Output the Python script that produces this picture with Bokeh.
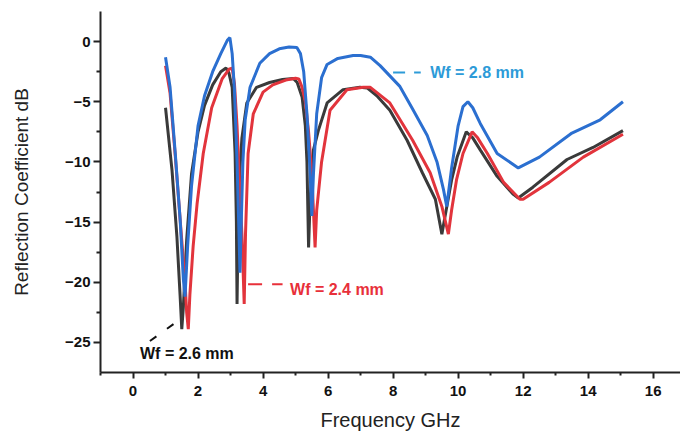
from bokeh.plotting import figure
from bokeh.models import FixedTicker, Range1d
from bokeh.core.properties import value
from bokeh.embed import file_html
from bokeh.resources import INLINE

# ---- data ----
freq_26 = [1.0, 1.2, 1.35, 1.45, 1.5, 1.55, 1.65, 1.8, 2.0, 2.2, 2.45, 2.7, 2.86, 2.95, 3.05,
           3.14, 3.18, 3.2, 3.23, 3.28, 3.35, 3.5, 3.8, 4.2, 4.6, 4.93, 5.05, 5.2, 5.3, 5.35,
           5.4, 5.45, 5.55, 5.7, 5.97, 6.46, 6.98, 7.2, 7.5, 7.9, 8.43, 8.9, 9.3, 9.5, 9.6,
           9.8, 9.97, 10.25, 10.45, 10.68, 11.2, 11.7, 11.85, 12.3, 13.35, 14.15, 15.07]
s11_26 = [-5.5, -10.7, -16.2, -21.2, -23.9, -22.0, -16.5, -11.0, -7.5, -5.3, -3.6, -2.5, -2.2, -2.6, -3.8,
          -9.3, -15.0, -21.8, -16.0, -11.0, -8.0, -5.1, -3.8, -3.4, -3.15, -3.06, -3.4, -4.6, -7.0, -10.0,
          -17.1, -13.0, -9.0, -7.4, -5.1, -4.0, -3.8, -3.85, -4.5, -5.7, -8.2, -10.9, -13.1, -16.0, -14.5,
          -11.5, -9.6, -7.5, -8.0, -9.0, -11.2, -12.7, -13.0, -12.1, -9.8, -8.8, -7.4]

freq_24 = [1.0, 1.14, 1.3, 1.45, 1.6, 1.65, 1.7, 1.75, 1.85, 1.97, 2.16, 2.42, 2.74, 2.95, 3.05,
           3.12, 3.2, 3.28, 3.35, 3.42, 3.46, 3.54, 3.7, 4.0, 4.3, 4.7, 5.0, 5.1, 5.2, 5.3,
           5.4, 5.5, 5.6, 5.65, 5.8, 6.06, 6.58, 7.08, 7.3, 7.9, 8.6, 9.14, 9.5, 9.7, 9.8,
           9.95, 10.15, 10.43, 10.6, 10.9, 11.4, 11.9, 12.0, 12.8, 13.85, 15.07]
s11_24 = [-2.0, -4.3, -9.5, -14.8, -20.0, -22.5, -23.9, -21.0, -17.0, -13.5, -9.3, -5.5, -3.1, -2.3, -2.2,
          -3.5, -7.0, -12.0, -16.0, -21.8, -16.0, -9.3, -6.0, -4.2, -3.6, -3.2, -3.05, -3.1, -3.8, -5.0,
          -7.5, -11.0, -17.1, -14.0, -10.0, -5.7, -4.0, -3.8, -3.8, -5.1, -8.2, -10.9, -13.7, -16.0, -14.0,
          -11.5, -9.3, -7.5, -8.0, -9.3, -11.7, -13.1, -13.1, -11.7, -9.6, -7.7]

freq_28 = [1.0, 1.14, 1.3, 1.45, 1.55, 1.6, 1.68, 1.8, 2.0, 2.2, 2.45, 2.7, 2.9, 2.98, 3.05,
           3.12, 3.2, 3.26, 3.29, 3.33, 3.38, 3.45, 3.6, 3.9, 4.2, 4.5, 4.8, 5.04, 5.15, 5.25,
           5.35, 5.45, 5.5, 5.55, 5.65, 5.8, 5.97, 6.3, 6.77, 7.0, 7.3, 7.6, 8.2, 8.6, 9.05,
           9.35, 9.55, 9.65, 9.8, 10.0, 10.15, 10.3, 10.45, 10.68, 11.2, 11.85, 12.5, 13.5, 14.37, 15.07]
s11_28 = [-1.3, -3.8, -9.3, -14.8, -19.8, -21.2, -17.0, -12.0, -7.0, -4.5, -2.5, -1.0, 0.1, 0.33, -1.0,
          -4.0, -10.0, -16.0, -19.2, -15.0, -10.0, -6.5, -3.8, -1.8, -1.0, -0.6, -0.45, -0.5, -1.0, -2.5,
          -6.0, -11.0, -14.5, -11.0, -6.0, -3.0, -1.9, -1.4, -1.16, -1.15, -1.3, -2.0, -3.7, -5.6, -7.8,
          -10.0, -12.3, -13.7, -10.5, -7.0, -5.4, -5.0, -5.5, -6.8, -9.3, -10.5, -9.6, -7.6, -6.5, -5.0]

label_text = ["Wf = 2.6 mm", "Wf = 2.4 mm", "Wf = 2.8 mm"]
label_x = [0.215, 4.83, 9.14]
label_y = [-25.95, -20.58, -2.56]

x_ticks = [0, 2, 4, 6, 8, 10, 12, 14, 16]
x_minor = [-1, 1, 3, 5, 7, 9, 11, 13, 15]
y_ticks = [-25, -20, -15, -10, -5, 0]
y_minor = [-22.5, -17.5, -12.5, -7.5, -2.5]

# ---- figure ----
p = figure(width=680, height=433, output_backend="svg", toolbar_location=None,
           x_range=Range1d(-1, 16.84), y_range=Range1d(-27.5, 2.5),
           min_border_left=100, min_border_right=0, min_border_top=11, min_border_bottom=59,
           x_axis_label="Frequency GHz", y_axis_label="Reflection Coefficient dB")
p.grid.visible = False
p.outline_line_color = None

C_BLACK = "#3a3a3a"
C_RED = "#e2343c"
C_BLUE = "#2b6fd0"

p.line(freq_26, s11_26, line_color=C_BLACK, line_width=3)
p.line(freq_24, s11_24, line_color=C_RED, line_width=3)
p.line(freq_28, s11_28, line_color=C_BLUE, line_width=3)

# leader lines
p.line([0.52, 1.29], [-24.88, -23.39], line_color="#111111", line_width=2, line_dash="8 13")
p.line([3.54, 4.6], [-20.17, -20.17], line_color="#e8303a", line_width=2, line_dash="14 10")
p.line([8.0, 8.85], [-2.56, -2.56], line_color="#2d9bd8", line_width=2, line_dash="12 9")

p.text(x=label_x, y=label_y, text=label_text,
       text_color=["#111111", "#e8303a", "#2d9bd8"],
       text_font=value("Liberation Sans"), text_font_style="bold",
       text_font_size="16px", text_baseline="middle", text_align="left")

for ax in (p.xaxis[0], p.yaxis[0]):
    ax.axis_line_width = 2
    ax.axis_line_color = "#222222"
    ax.major_tick_line_width = 2
    ax.minor_tick_line_width = 2
    ax.major_tick_line_color = "#222222"
    ax.minor_tick_line_color = "#222222"
    ax.major_tick_in = 0
    ax.minor_tick_in = 0
    ax.major_label_text_font = "Liberation Sans"
    ax.major_label_text_font_style = "bold"
    ax.major_label_text_font_size = "15px"
    ax.major_label_text_color = "#111111"
    ax.axis_label_text_font = "Liberation Sans"
    ax.axis_label_text_font_style = "normal"
    ax.axis_label_text_color = "#222222"

p.xaxis.axis_label_text_font_size = "20px"
p.yaxis.axis_label_text_font_size = "19px"
p.xaxis.ticker = FixedTicker(ticks=x_ticks, minor_ticks=x_minor)
p.yaxis.ticker = FixedTicker(ticks=y_ticks, minor_ticks=y_minor)
p.xaxis.major_tick_out = 6
p.xaxis.minor_tick_out = 3
p.yaxis.major_tick_out = 7
p.yaxis.minor_tick_out = 4
p.xaxis.major_label_standoff = 7
p.yaxis.major_label_standoff = 3
p.xaxis.axis_label_standoff = 10
p.yaxis.axis_label_standoff = 30

open("out.html", "w").write(file_html(p, INLINE))
